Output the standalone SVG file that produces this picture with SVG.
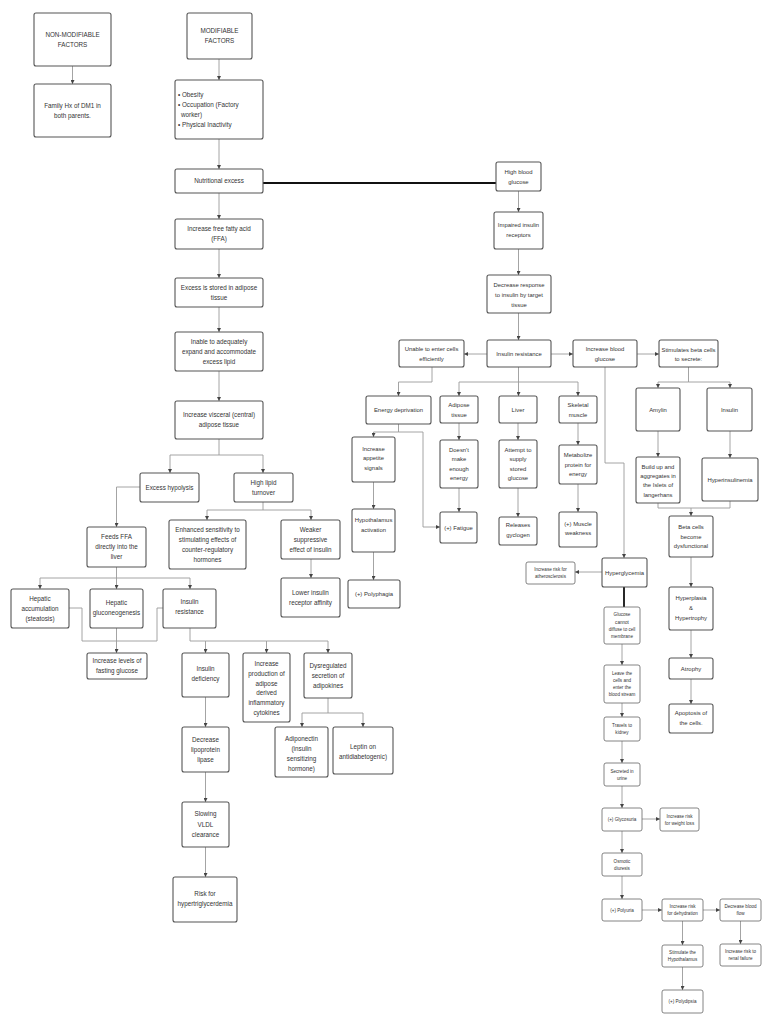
<svg xmlns="http://www.w3.org/2000/svg" width="768" height="1024" viewBox="0 0 768 1024">
<defs>
<marker id="ah" markerUnits="userSpaceOnUse" markerWidth="4" markerHeight="4" refX="4" refY="2" orient="auto"><path d="M0,0 L4,2 L0,4 z" fill="#444"/></marker>
<style>
rect{fill:#fff;stroke:#555;stroke-width:1.1}
rect.s{stroke:#666;stroke-width:0.8}
text{font-family:"Liberation Sans",Arial,sans-serif;fill:#333;text-anchor:middle}
.t{font-size:6.3px}
.m{font-size:5.9px}
.s{font-size:4.6px}
.c path{fill:none;stroke:#9a9a9a;stroke-width:0.9}
.c path.a{marker-end:url(#ah)}
.c path.k{stroke:#111;stroke-width:1.8}
</style>
</defs>
<rect x="0" y="0" width="768" height="1024" style="fill:#fff;stroke:none"/>

<g id="connectors" class="c">
<path class="a" d="M72.5,66 V84"/>
<path class="a" d="M219,59 V80"/>
<path class="a" d="M219,139 V169"/>
<path class="a" d="M219,193 V219"/>
<path class="a" d="M219,249 V278"/>
<path class="a" d="M219,307 V332"/>
<path class="a" d="M219,371 V401"/>
<path class="k" d="M263,183 H496"/>
<path class="a" d="M219,439 V455 H170 V473"/>
<path class="a" d="M219,455 H263 V473"/>
<path class="a" d="M140,487 H116.5 V527"/>
<path class="a" d="M263,502 V510 H207 V520"/>
<path class="a" d="M263,510 H311 V520"/>
<path class="a" d="M311,559 V578"/>
<path class="a" d="M116.5,567 V578 H40 V589"/>
<path class="a" d="M116.5,578 V589"/>
<path class="a" d="M116.5,578 H190 V589"/>
<path d="M69,608 H82 V641 H157 V608 H163"/>
<path class="a" d="M116.5,628 V653"/>
<path class="a" d="M190,628 V641 H205.5 V653"/>
<path class="a" d="M205.5,641 H266.5 V653"/>
<path class="a" d="M266.5,641 H328 V653"/>
<path class="a" d="M205.5,697 V727"/>
<path class="a" d="M205.5,772 V802"/>
<path class="a" d="M205.5,847 V877"/>
<path class="a" d="M328,698 V713 H302 V727"/>
<path class="a" d="M328,713 H363 V727"/>
<path class="a" d="M518.5,191 V212"/>
<path class="a" d="M518.5,249 V275"/>
<path class="a" d="M518.5,313 V340"/>
<path class="a" d="M487,354 H464"/>
<path class="a" d="M551,354 H573"/>
<path class="a" d="M637,354 H659"/>
<path class="a" d="M432,367 V382 H398.5 V396"/>
<path class="a" d="M518.5,367 V382 H459 V396"/>
<path class="a" d="M518.5,382 V396"/>
<path class="a" d="M518.5,382 H578 V396"/>
<path class="a" d="M398.5,424 V432 H373.5 V437"/>
<path class="a" d="M398.5,432 H423 V527 H440"/>
<path class="a" d="M373.5,482 V509"/>
<path class="a" d="M373.5,552 V580"/>
<path class="a" d="M459,423 V440"/>
<path class="a" d="M459,488 V512"/>
<path class="a" d="M518,423 V440"/>
<path class="a" d="M518,488 V517"/>
<path class="a" d="M578,423 V445"/>
<path class="a" d="M578,484 V512"/>
<path class="a" d="M605,367 V463 H624 V558"/>
<path class="a" d="M688.5,367 V382 H658 V388"/>
<path class="a" d="M688.5,382 H730 V388"/>
<path class="a" d="M658,431 V457"/>
<path class="a" d="M730,431 V458"/>
<path d="M658,503 V508 H730 V501"/>
<path class="a" d="M691,508 V516"/>
<path class="a" d="M691,557 V587"/>
<path class="a" d="M691,630 V658"/>
<path class="a" d="M691,679 V704"/>
<path class="a" d="M602,572 H575"/>
<path class="k" d="M624,587 V607"/>
<path class="a" d="M622,644 V665"/>
<path class="a" d="M622,703 V717"/>
<path class="a" d="M622,741 V763"/>
<path class="a" d="M622,786 V808"/>
<path class="a" d="M642,819 H660"/>
<path class="a" d="M622,831 V853"/>
<path class="a" d="M622,876 V899"/>
<path class="a" d="M642,910 H662"/>
<path class="a" d="M703,910 H720"/>
<path class="a" d="M740.5,921 V944"/>
<path class="a" d="M682.5,921 V945"/>
<path class="a" d="M682.5,967 V990"/>
</g>

<g id="n1"><rect x="34" y="13" width="77" height="53" rx="2"/><text class="t"><tspan x="72.5" y="36.7">NON-MODIFIABLE</tspan><tspan x="72.5" y="46.7">FACTORS</tspan></text></g>
<g id="n2"><rect x="34" y="84" width="77" height="53" rx="2"/><text class="t"><tspan x="72.5" y="107.7">Family Hx of DM1 in</tspan><tspan x="72.5" y="117.7">both parents.</tspan></text></g>
<g id="n3"><rect x="187" y="13" width="65" height="46" rx="2"/><text class="t"><tspan x="219.5" y="33.2">MODIFIABLE</tspan><tspan x="219.5" y="43.2">FACTORS</tspan></text></g>
<g id="n4"><rect x="175" y="80" width="88" height="59" rx="2"/><text class="t" style="text-anchor:start"><tspan x="178" y="96.5">• Obesity</tspan><tspan x="178" y="106.5">• Occupation (Factory</tspan><tspan x="181" y="116.5">worker)</tspan><tspan x="178" y="126.5">• Physical Inactivity</tspan></text></g>
<g id="n5"><rect x="175" y="169" width="88" height="24" rx="2"/><text class="t" x="219" y="183.2">Nutritional excess</text></g>
<g id="n6"><rect x="175" y="219" width="88" height="30" rx="2"/><text class="t"><tspan x="219" y="231.2">Increase free fatty acid</tspan><tspan x="219" y="241.2">(FFA)</tspan></text></g>
<g id="n7"><rect x="175" y="278" width="88" height="29" rx="2"/><text class="t"><tspan x="219" y="289.7">Excess is stored in adipose</tspan><tspan x="219" y="299.7">tissue</tspan></text></g>
<g id="n8"><rect x="175" y="332" width="88" height="39" rx="2"/><text class="t"><tspan x="219" y="343.7">Inable to adequately</tspan><tspan x="219" y="353.7">expand and accommodate</tspan><tspan x="219" y="363.7">excess lipid</tspan></text></g>
<g id="n9"><rect x="175" y="401" width="88" height="38" rx="2"/><text class="t"><tspan x="219" y="417.2">Increase visceral (central)</tspan><tspan x="219" y="427.2">adipose tissue</tspan></text></g>
<g id="n10"><rect x="140" y="473" width="59" height="29" rx="2"/><text class="t" x="169.5" y="489.7">Excess hypolysis</text></g>
<g id="n11"><rect x="234" y="473" width="59" height="29" rx="2"/><text class="t"><tspan x="263.5" y="484.7">High lipid</tspan><tspan x="263.5" y="494.7">turnover</tspan></text></g>
<g id="n12"><rect x="87" y="527" width="59" height="40" rx="2"/><text class="t"><tspan x="116.5" y="539.2">Feeds FFA</tspan><tspan x="116.5" y="549.2">directly into the</tspan><tspan x="116.5" y="559.2">liver</tspan></text></g>
<g id="n13"><rect x="169" y="520" width="77" height="49" rx="2"/><text class="t"><tspan x="207.5" y="532.2">Enhanced sensitivity to</tspan><tspan x="207.5" y="542.2">stimulating effects of</tspan><tspan x="207.5" y="552.2">counter-regulatory</tspan><tspan x="207.5" y="562.2">hormones</tspan></text></g>
<g id="n14"><rect x="281" y="520" width="59" height="39" rx="2"/><text class="t"><tspan x="310.5" y="531.7">Weaker</tspan><tspan x="310.5" y="541.7">suppressive</tspan><tspan x="310.5" y="551.7">effect of insulin</tspan></text></g>
<g id="n15"><rect x="281" y="578" width="59" height="39" rx="2"/><text class="t"><tspan x="310.5" y="594.7">Lower insulin</tspan><tspan x="310.5" y="604.7">receptor affinity</tspan></text></g>
<g id="n16"><rect x="11" y="589" width="58" height="39" rx="2"/><text class="t"><tspan x="40" y="601.2">Hepatic</tspan><tspan x="40" y="611.2">accumulation</tspan><tspan x="40" y="621.2">(steatosis)</tspan></text></g>
<g id="n17"><rect x="90" y="589" width="53" height="39" rx="2"/><text class="t"><tspan x="116.5" y="604.5">Hepatic</tspan><tspan x="116.5" y="614.5">gluconeogenesis</tspan></text></g>
<g id="n18"><rect x="163" y="589" width="53" height="39" rx="2"/><text class="t"><tspan x="189.5" y="604.2">Insulin</tspan><tspan x="189.5" y="614.2">resistance</tspan></text></g>
<g id="n19"><rect x="87" y="653" width="60" height="26" rx="2"/><text class="t"><tspan x="117" y="663.2">Increase levels of</tspan><tspan x="117" y="673.2">fasting glucose</tspan></text></g>
<g id="n20"><rect x="182" y="653" width="47" height="44" rx="2"/><text class="t"><tspan x="205.5" y="670.7">Insulin</tspan><tspan x="205.5" y="681.2">deficiency</tspan></text></g>
<g id="n21"><rect x="243" y="653" width="47" height="69" rx="2"/><text class="t"><tspan x="266.5" y="665.5">Increase</tspan><tspan x="266.5" y="675.5">production of</tspan><tspan x="266.5" y="685.5">adipose</tspan><tspan x="266.5" y="695">derived</tspan><tspan x="266.5" y="705">inflammatory</tspan><tspan x="266.5" y="715">cytokines</tspan></text></g>
<g id="n22"><rect x="304" y="653" width="48" height="45" rx="2"/><text class="t"><tspan x="328" y="667.5">Dysregulated</tspan><tspan x="328" y="677.5">secretion of</tspan><tspan x="328" y="687.5">adipokines</tspan></text></g>
<g id="n23"><rect x="275" y="727" width="53" height="50" rx="2"/><text class="t"><tspan x="301.5" y="740.5">Adiponectin</tspan><tspan x="301.5" y="750.5">(insulin</tspan><tspan x="301.5" y="760.7">sensitizing</tspan><tspan x="301.5" y="770.5">hormone)</tspan></text></g>
<g id="n24"><rect x="333" y="727" width="60" height="47" rx="2"/><text class="t"><tspan x="363" y="749">Leptin on</tspan><tspan x="363" y="759">antidiabetogenic)</tspan></text></g>
<g id="n25"><rect x="182" y="727" width="47" height="45" rx="2"/><text class="t"><tspan x="205.5" y="741.5">Decrease</tspan><tspan x="205.5" y="751.5">lipoprotein</tspan><tspan x="205.5" y="761.5">lipase</tspan></text></g>
<g id="n26"><rect x="182" y="802" width="47" height="45" rx="2"/><text class="t"><tspan x="205.5" y="816.2">Slowing</tspan><tspan x="205.5" y="826.5">VLDL</tspan><tspan x="205.5" y="836.5">clearance</tspan></text></g>
<g id="n27"><rect x="173" y="877" width="64" height="45" rx="2"/><text class="t"><tspan x="205" y="895.5">Risk for</tspan><tspan x="205" y="906.2">hypertriglycerdemia</tspan></text></g>

<g id="n28"><rect x="496" y="162" width="45" height="29" rx="2"/><text class="m"><tspan x="518.5" y="173.8">High blood</tspan><tspan x="518.5" y="183.8">glucose</tspan></text></g>
<g id="n29"><rect x="494" y="212" width="49" height="37" rx="2"/><text class="m"><tspan x="518.5" y="227.1">Impaired insulin</tspan><tspan x="518.5" y="237.1">receptors</tspan></text></g>
<g id="n30"><rect x="487" y="275" width="64" height="38" rx="2"/><text class="m"><tspan x="519" y="287.1">Decrease response</tspan><tspan x="519" y="297.1">to insulin by target</tspan><tspan x="519" y="306.6">tissue</tspan></text></g>
<g id="n31"><rect x="487" y="340" width="64" height="27" rx="2"/><text class="m" x="519" y="355.6">Insulin resistance</text></g>
<g id="n32"><rect x="399" y="340" width="65" height="27" rx="2"/><text class="m"><tspan x="431.5" y="351.4">Unable to enter cells</tspan><tspan x="431.5" y="361.4">efficiently</tspan></text></g>
<g id="n33"><rect x="573" y="340" width="64" height="27" rx="2"/><text class="m"><tspan x="605" y="351.4">Increase blood</tspan><tspan x="605" y="361.4">glucose</tspan></text></g>
<g id="n34"><rect x="659" y="340" width="59" height="27" rx="2"/><text class="m"><tspan x="688.5" y="352.1">Stimulates beta cells</tspan><tspan x="688.5" y="361.4">to secrete:</tspan></text></g>
<g id="n35"><rect x="366" y="396" width="65" height="28" rx="2"/><text class="m" x="398.5" y="412.1">Energy deprivation</text></g>
<g id="n36"><rect x="440" y="396" width="38" height="27" rx="2"/><text class="m"><tspan x="459" y="407.1">Adipose</tspan><tspan x="459" y="417.1">tissue</tspan></text></g>
<g id="n37"><rect x="499" y="396" width="38" height="27" rx="2"/><text class="m" x="518" y="411.6">Liver</text></g>
<g id="n38"><rect x="559" y="396" width="38" height="27" rx="2"/><text class="m"><tspan x="578" y="407.1">Skeletal</tspan><tspan x="578" y="417.1">muscle</tspan></text></g>
<g id="n39"><rect x="352" y="437" width="43" height="45" rx="2"/><text class="m"><tspan x="373.5" y="451.1">Increase</tspan><tspan x="373.5" y="460.4">appetite</tspan><tspan x="373.5" y="470.4">signals</tspan></text></g>
<g id="n40"><rect x="352" y="509" width="43" height="43" rx="2"/><text class="m"><tspan x="373.5" y="522.1">Hypothalamus</tspan><tspan x="373.5" y="532.1">activation</tspan></text></g>
<g id="n41"><rect x="348" y="580" width="52" height="28" rx="2"/><text class="m" x="374" y="595.8">(+) Polyphagia</text></g>
<g id="n42"><rect x="440" y="440" width="38" height="48" rx="2"/><text class="m"><tspan x="459" y="451.9">Doesn't</tspan><tspan x="459" y="461.4">make</tspan><tspan x="459" y="470.9">enough</tspan><tspan x="459" y="480.4">energy</tspan></text></g>
<g id="n43"><rect x="499" y="440" width="38" height="48" rx="2"/><text class="m"><tspan x="518" y="451.9">Attempt to</tspan><tspan x="518" y="461.4">supply</tspan><tspan x="518" y="470.9">stored</tspan><tspan x="518" y="480.4">glucose</tspan></text></g>
<g id="n44"><rect x="559" y="445" width="38" height="39" rx="2"/><text class="m"><tspan x="578" y="457.1">Metabolize</tspan><tspan x="578" y="466.6">protein for</tspan><tspan x="578" y="476.1">energy</tspan></text></g>
<g id="n45"><rect x="440" y="512" width="37" height="31" rx="2"/><text class="m" x="458.5" y="529.6">(+) Fatigue</text></g>
<g id="n46"><rect x="499" y="517" width="38" height="28" rx="2"/><text class="m"><tspan x="518" y="527">Releases</tspan><tspan x="518" y="536.5">gyclogen</tspan></text></g>
<g id="n47"><rect x="559" y="512" width="38" height="35" rx="2"/><text class="m"><tspan x="578" y="525.5">(+) Muscle</tspan><tspan x="578" y="535">weakness</tspan></text></g>
<g id="n48"><rect x="636" y="388" width="44" height="43" rx="2"/><text class="m" x="658" y="411.6">Amylin</text></g>
<g id="n49"><rect x="707" y="388" width="45" height="43" rx="2"/><text class="m" x="729.5" y="411.6">Insulin</text></g>
<g id="n50"><rect x="636" y="457" width="44" height="46" rx="2"/><text class="m"><tspan x="658" y="468.8">Build up and</tspan><tspan x="658" y="478.1">aggregates in</tspan><tspan x="658" y="487.4">the Islets of</tspan><tspan x="658" y="497">langerhans</tspan></text></g>
<g id="n51"><rect x="702" y="458" width="56" height="43" rx="2"/><text class="m" x="730" y="481.6">Hyperinsulinemia</text></g>
<g id="n52"><rect x="669" y="516" width="44" height="41" rx="2"/><text class="m"><tspan x="691" y="529.4">Beta cells</tspan><tspan x="691" y="538.8">become</tspan><tspan x="691" y="548.1">dysfunctional</tspan></text></g>
<g id="n53"><rect x="669" y="587" width="44" height="43" rx="2"/><text class="m"><tspan x="691" y="600.4">Hyperplasia</tspan><tspan x="691" y="610.4">&amp;</tspan><tspan x="691" y="619.8">Hypertrophy</tspan></text></g>
<g id="n54"><rect x="669" y="658" width="44" height="21" rx="2"/><text class="m" x="691" y="670.6">Atrophy</text></g>
<g id="n55"><rect x="669" y="704" width="44" height="29" rx="2"/><text class="m"><tspan x="691" y="715.4">Apoptosis of</tspan><tspan x="691" y="725.4">the cells.</tspan></text></g>
<g id="n56"><rect x="602" y="558" width="45" height="29" rx="2"/><text class="m" x="624.5" y="574.6">Hyperglycemia</text></g>

<g id="n57"><rect class="s" x="526" y="562" width="49" height="22" rx="2"/><text class="s"><tspan x="550.5" y="571">Increase risk for</tspan><tspan x="550.5" y="578.2">atherosclerosis</tspan></text></g>
<g id="n58"><rect class="s" x="604" y="607" width="36" height="37" rx="2"/><text class="s"><tspan x="622" y="616.3">Glucose</tspan><tspan x="622" y="623.5">cannot</tspan><tspan x="622" y="630.7">diffuse to cell</tspan><tspan x="622" y="637.9">membrane</tspan></text></g>
<g id="n59"><rect class="s" x="604" y="665" width="36" height="38" rx="2"/><text class="s"><tspan x="622" y="674.8">Leave the</tspan><tspan x="622" y="682">cells and</tspan><tspan x="622" y="689.2">enter the</tspan><tspan x="622" y="696.4">blood stream</tspan></text></g>
<g id="n60"><rect class="s" x="604" y="717" width="36" height="24" rx="2"/><text class="s"><tspan x="622" y="727">Travels to</tspan><tspan x="622" y="734.2">kidney</tspan></text></g>
<g id="n61"><rect class="s" x="604" y="763" width="36" height="23" rx="2"/><text class="s"><tspan x="622" y="772.5">Secreted in</tspan><tspan x="622" y="779.7">urine</tspan></text></g>
<g id="n62"><rect class="s" x="602" y="808" width="40" height="23" rx="2"/><text class="s" x="622" y="821.1">(+) Glycosuria</text></g>
<g id="n63"><rect class="s" x="660" y="808" width="39" height="23" rx="2"/><text class="s"><tspan x="679.5" y="817.5">Increase risk</tspan><tspan x="679.5" y="824.7">for weight loss</tspan></text></g>
<g id="n64"><rect class="s" x="602" y="853" width="40" height="23" rx="2"/><text class="s"><tspan x="622" y="862.5">Osmotic</tspan><tspan x="622" y="869.7">diuresis</tspan></text></g>
<g id="n65"><rect class="s" x="602" y="899" width="40" height="22" rx="2"/><text class="s" x="622" y="911.6">(+) Polyuria</text></g>
<g id="n66"><rect class="s" x="662" y="899" width="41" height="22" rx="2"/><text class="s"><tspan x="682.5" y="908">Increase risk</tspan><tspan x="682.5" y="915.2">for dehydration</tspan></text></g>
<g id="n67"><rect class="s" x="720" y="899" width="41" height="22" rx="2"/><text class="s"><tspan x="740.5" y="908">Decrease blood</tspan><tspan x="740.5" y="915.2">flow</tspan></text></g>
<g id="n68"><rect class="s" x="720" y="944" width="41" height="22" rx="2"/><text class="s"><tspan x="740.5" y="953">Increase risk to</tspan><tspan x="740.5" y="960.2">renal failure</tspan></text></g>
<g id="n69"><rect class="s" x="662" y="945" width="41" height="22" rx="2"/><text class="s"><tspan x="682.5" y="954">Stimulate the</tspan><tspan x="682.5" y="961.2">Hypothalamus</tspan></text></g>
<g id="n70"><rect class="s" x="662" y="990" width="41" height="23" rx="2"/><text class="s" x="682.5" y="1003.1">(+) Polydipsia</text></g>
</svg>
